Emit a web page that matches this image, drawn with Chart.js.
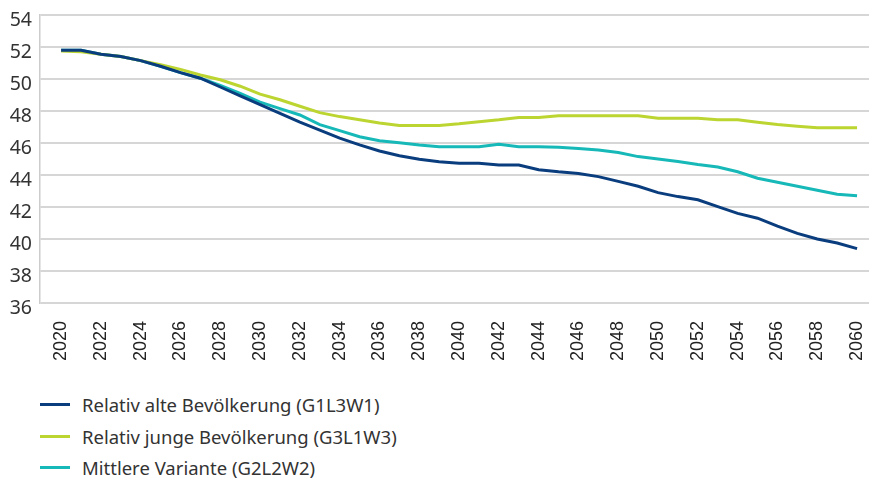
<!DOCTYPE html>
<html>
<head>
<meta charset="utf-8">
<script src="https://cdn.jsdelivr.net/npm/chart.js@4"></script>
<style>
  body { margin: 0; background: #fff; }
  #wrap { position: relative; width: 869px; height: 478px; }
  #chart { position: absolute; left: 0; top: 0; }
  .legend { position: absolute; left: 40px; font-family: "Noto Sans", sans-serif; font-size: 18.5px; color: #333; }
  .legend div { position: relative; height: 31.5px; line-height: 31.5px; padding-left: 42px; white-space: nowrap; }
  .legend span { position: absolute; left: 0; top: 14px; width: 30px; height: 3px; }
</style>
</head>
<body>
<div id="wrap">
  <canvas id="chart" width="869" height="368"></canvas>
  <div class="legend" id="legend" style="top: 389px;"></div>
</div>
<script>
// Jahre
const years = [];
for (let y = 2020; y <= 2060; y++) years.push(y);

// Relativ alte Bevölkerung (G1L3W1)
const alt = [51.8, 51.8, 51.55, 51.4, 51.15, 50.8, 50.4, 50.05, 49.5, 48.95,
  48.4, 47.85, 47.3, 46.8, 46.3, 45.88, 45.5, 45.2, 44.98, 44.83,
  44.73, 44.73, 44.63, 44.63, 44.33, 44.2, 44.1, 43.9, 43.6, 43.3,
  42.9, 42.65, 42.45, 42.02, 41.6, 41.3, 40.8, 40.35, 40.0, 39.75, 39.4];

// Relativ junge Bevölkerung (G3L1W3)
const jung = [51.75, 51.7, 51.55, 51.4, 51.15, 50.9, 50.6, 50.25, 49.95, 49.55,
  49.05, 48.7, 48.3, 47.9, 47.65, 47.45, 47.25, 47.1, 47.1, 47.1,
  47.2, 47.33, 47.45, 47.6, 47.6, 47.7, 47.7, 47.7, 47.7, 47.7,
  47.55, 47.55, 47.55, 47.45, 47.45, 47.3, 47.15, 47.05, 46.95, 46.95, 46.95];

// Mittlere Variante (G2L2W2)
const mittel = [51.8, 51.8, 51.55, 51.4, 51.15, 50.8, 50.4, 50.05, 49.6, 49.1,
  48.55, 48.15, 47.75, 47.15, 46.77, 46.39, 46.14, 46.02, 45.88, 45.77,
  45.77, 45.77, 45.92, 45.77, 45.77, 45.73, 45.66, 45.56, 45.4, 45.15,
  45.0, 44.85, 44.65, 44.5, 44.2, 43.8, 43.55, 43.3, 43.05, 42.8, 42.7];

const yTicks = [36, 38, 40, 42, 44, 46, 48, 50, 52, 54];
const xTickYears = years.filter(y => y % 2 === 0);

const series = [
  { label: 'Relativ alte Bevölkerung (G1L3W1)', values: alt, color: '#0a3d7e' },
  { label: 'Relativ junge Bevölkerung (G3L1W3)', values: jung, color: '#bcd531' },
  { label: 'Mittlere Variante (G2L2W2)', values: mittel, color: '#17b8b8' }
];

new Chart(document.getElementById('chart'), {
  type: 'line',
  data: {
    datasets: series.map(s => ({
      label: s.label,
      data: years.map((y, i) => ({ x: y, y: s.values[i] })),
      borderColor: s.color,
      backgroundColor: s.color,
      borderWidth: 3,
      pointRadius: 0,
      tension: 0
    }))
  },
  options: {
    responsive: false,
    animation: false,
    layout: { padding: { top: 15, right: 0, left: 0, bottom: 0 } },
    plugins: { legend: { display: false }, tooltip: { enabled: false } },
    scales: {
      x: {
        type: 'linear',
        min: 2018.94,
        max: 2060.6,
        afterBuildTicks: scale => { scale.ticks = xTickYears.map(v => ({ value: v })); },
        afterFit: scale => {
          scale.height = 65;
          scale.paddingLeft = 0;
          scale.paddingRight = 0;
        },
        grid: { display: false, drawTicks: false },
        border: { display: false },
        ticks: {
          autoSkip: false,
          maxRotation: 90,
          minRotation: 90,
          padding: 18,
          color: '#222',
          font: { family: '"Liberation Sans", Arial, sans-serif', size: 18 },
          callback: v => String(v)
        }
      },
      y: {
        min: 36,
        max: 54,
        afterBuildTicks: scale => { scale.ticks = yTicks.map(v => ({ value: v })); },
        afterFit: scale => {
          scale.width = 40;
          scale.paddingTop = 0;
          scale.paddingBottom = 0;
        },
        grid: { color: '#d6d6d6', lineWidth: 2, drawTicks: false },
        border: { display: true, color: '#cccccc', width: 1.5 },
        ticks: {
          padding: 8,
          labelOffset: 5,
          color: '#333',
          font: { family: '"Noto Sans", sans-serif', size: 19.5 }
        }
      }
    }
  }
});

const legend = document.getElementById('legend');
series.forEach(s => {
  const row = document.createElement('div');
  const sw = document.createElement('span');
  sw.style.background = s.color;
  row.appendChild(sw);
  row.appendChild(document.createTextNode(s.label));
  legend.appendChild(row);
});
</script>
</body>
</html>
